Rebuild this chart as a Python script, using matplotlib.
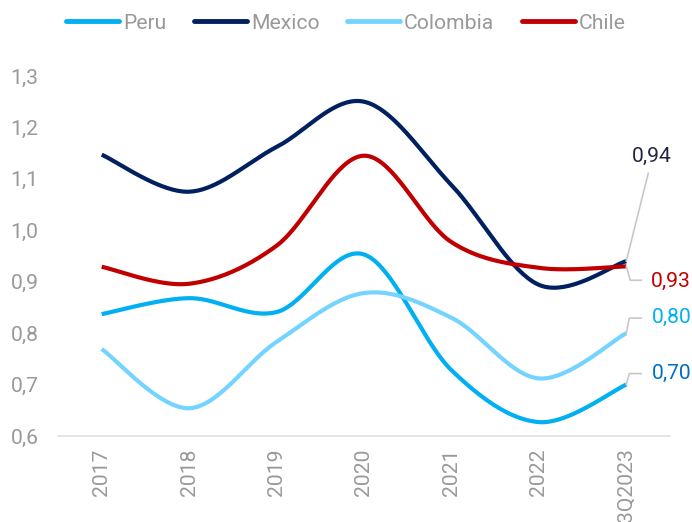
import numpy as np
import matplotlib
matplotlib.use("Agg")
import matplotlib.pyplot as plt
from matplotlib.lines import Line2D
from matplotlib.transforms import IdentityTransform

plt.rcParams['font.family'] = ['Roboto', 'DejaVu Sans']

periods = ["2017", "2018", "2019", "2020", "2021", "2022", "3Q2023"]
peru = [0.837, 0.868, 0.841, 0.953, 0.728, 0.627, 0.70]
mexico = [1.147, 1.075, 1.162, 1.250, 1.088, 0.894, 0.94]
colombia = [0.769, 0.654, 0.783, 0.878, 0.830, 0.712, 0.80]
chile = [0.929, 0.896, 0.970, 1.145, 0.977, 0.927, 0.93]
y_ticks = [0.6, 0.7, 0.8, 0.9, 1.0, 1.1, 1.2, 1.3]

c_peru = "#00B0F0"
c_mexico = "#002060"
c_colombia = "#75D4FF"
c_chile = "#C00000"
grey = "#999999"
FS = 15.2


def smooth(xs, ys, n=40):
    """Bezier smoothing through every point, similar to office 'smoothed line'."""
    p = np.column_stack([xs, ys]).astype(float)
    ext = np.vstack([p[0], p, p[-1]])
    out = []
    t = np.linspace(0, 1, n)[:, None]
    for i in range(len(p) - 1):
        p0 = ext[i + 1]
        p3 = ext[i + 2]
        c1 = p0 + (ext[i + 2] - ext[i]) / 6.0
        c2 = p3 - (ext[i + 3] - ext[i + 1]) / 6.0
        seg = ((1 - t) ** 3) * p0 + 3 * ((1 - t) ** 2) * t * c1 + 3 * (1 - t) * t ** 2 * c2 + t ** 3 * p3
        out.append(seg if i == 0 else seg[1:])
    seg = np.vstack(out)
    return seg[:, 0], seg[:, 1]


fig = plt.figure(figsize=(6.92, 5.22), dpi=100)
ax = fig.add_axes([58 / 692, (522 - 436) / 522, 612 / 692, 360 / 522])

x = np.arange(len(periods))
series = [("Peru", peru, c_peru), ("Mexico", mexico, c_mexico),
          ("Colombia", colombia, c_colombia), ("Chile", chile, c_chile)]
handles = []
for name, vals, col in series:
    sx, sy = smooth(x, vals)
    h, = ax.plot(sx, sy, color=col, lw=3.0, solid_capstyle='butt', label=name)
    handles.append(h)

ax.set_xlim(-0.5, len(periods) - 0.5)
ax.set_ylim(0.6, 1.3)
ax.set_yticks(y_ticks)
ax.set_yticklabels([f"{v:.1f}".replace(".", ",") for v in y_ticks])
ax.set_xticks(x)
ax.set_xticklabels(periods, rotation=90, va='top', ha='center')
ax.tick_params(axis='both', length=0, colors=grey, labelsize=FS)
ax.tick_params(axis='y', pad=14)
ax.tick_params(axis='x', pad=9)
for s in ["top", "right", "left"]:
    ax.spines[s].set_visible(False)
ax.spines["bottom"].set_color("#E3E3E3")
ax.spines["bottom"].set_linewidth(1.3)

# end-of-series value labels with leader lines (offsets in pixels)
end_labels = [
    (mexico[-1], "#262640", [(0, 0), (22, 88)], (26, 105), 'center'),
    (chile[-1], c_chile, [(0, 0), (4, -14), (15, -14)], (25, -15), 'left'),
    (colombia[-1], c_peru, [(0, 0), (3, 15), (15, 15)], (26, 16), 'left'),
    (peru[-1], "#0070C0", [(0, 0), (3, 11), (15, 11)], (26, 11), 'left'),
]
xi = len(periods) - 1
for val, col, path, toff, ha in end_labels:
    px, py = ax.transData.transform((xi, val))
    lx = [px + dx for dx, dy in path]
    ly = [py + dy for dx, dy in path]
    fig.add_artist(Line2D(lx, ly, color="#C8C8C8", lw=1.2, transform=IdentityTransform()))
    fig.text(px + toff[0], py + toff[1], f"{val:.2f}".replace(".", ","), color=col,
             fontsize=FS, ha=ha, va='center', transform=IdentityTransform())

fig.legend(handles=handles, loc='upper center', bbox_to_anchor=(0.5, 1.01), ncol=4,
           frameon=False, fontsize=FS, labelcolor=grey, handlelength=2.5,
           handletextpad=0.2, columnspacing=1.3)
for lh in fig.legends[0].get_lines():
    lh.set_linewidth(3.5)
    lh.set_solid_capstyle('round')

fig.savefig("out.png", dpi=100)
